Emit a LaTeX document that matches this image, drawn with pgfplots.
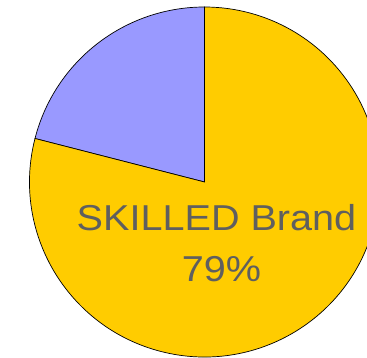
\documentclass[border=0pt]{standalone}
\usepackage{pgfplots}
\usepackage{pgfplotstable}
\pgfplotsset{compat=1.18}
\usepackage{fontspec}
\setmainfont{Liberation Sans}
\definecolor{pieyellow}{HTML}{FFCC00}
\definecolor{pieblue}{HTML}{9999FF}
\definecolor{labelgray}{HTML}{5F5F5F}

\pgfplotstableread{
label value
Other 21
Skilled 79
}\piedata

\begin{document}
\begin{tikzpicture}
\pgfplotstablegetelem{0}{value}\of\piedata \edef\vOther{\pgfplotsretval}
\pgfplotstablegetelem{1}{value}\of\piedata \edef\vSkilled{\pgfplotsretval}
\pgfmathsetmacro\aBlue{90+3.6*\vOther}
\pgfmathsetmacro\aEnd{\aBlue+3.6*\vSkilled}
\begin{axis}[
  scale only axis, width=367bp, height=358bp,
  xmin=0, xmax=367, ymin=0, ymax=358,
  hide axis, clip=true,
]
\coordinate (SW) at (rel axis cs:0,0);
\coordinate (NE) at (rel axis cs:1,1);
\begin{scope}
\clip (rel axis cs:0,0) rectangle (rel axis cs:1,1);
\filldraw[fill=pieblue, draw=black, line width=0.7bp]
  (axis cs:204.5,176) -- ++(90:175bp) arc[start angle=90, end angle=\aBlue, radius=175bp] -- cycle;
\filldraw[fill=pieyellow, draw=black, line width=0.7bp]
  (axis cs:204.5,176) -- ++(\aBlue:175bp) arc[start angle=\aBlue, end angle=\aEnd, radius=175bp] -- cycle;
\end{scope}
\node[anchor=base, text=labelgray, font=\fontsize{36bp}{44bp}\selectfont, xscale=1.1, transform shape, inner sep=0pt]
  at (axis cs:216.5,127.3) {SKILLED Brand};
\node[anchor=base, text=labelgray, font=\fontsize{36bp}{44bp}\selectfont, xscale=1.1, transform shape, inner sep=0pt]
  at (axis cs:221.5,76.3) {\vSkilled\%};
\end{axis}
\pgfresetboundingbox
\path (SW) rectangle (NE);
\end{tikzpicture}
\end{document}
